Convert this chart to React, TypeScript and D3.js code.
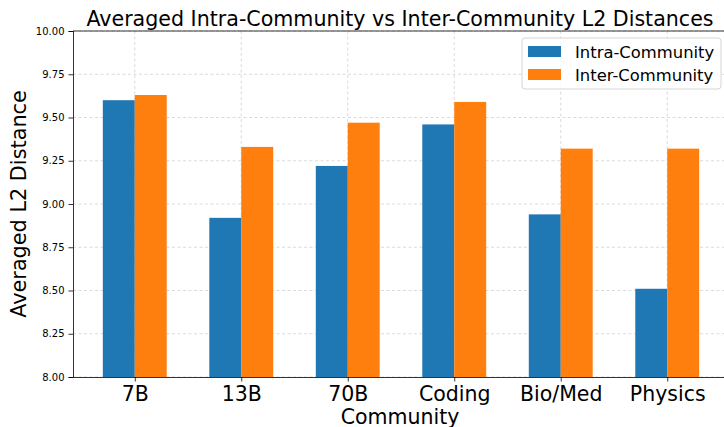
import { useEffect, useRef } from "react";
import * as d3 from "d3";

const categories = ["7B", "13B", "70B", "Coding", "Bio/Med", "Physics"];
const intraValues = [9.6, 8.92, 9.22, 9.46, 8.94, 8.51];
const interValues = [9.63, 9.33, 9.47, 9.59, 9.32, 9.32];
const seriesNames = ["Intra-Community", "Inter-Community"];
const seriesColors = ["#1f77b4", "#ff7f0e"];
const yTicks = [8.0, 8.25, 8.5, 8.75, 9.0, 9.25, 9.5, 9.75, 10.0];

export default function App() {
  const svgRef = useRef<SVGSVGElement | null>(null);

  useEffect(() => {
    if (!svgRef.current) return;
    const svg = d3.select(svgRef.current);
    svg.selectAll("*").remove();

    const width = 724;
    const height = 427;
    const left = 73;
    const top = 31;
    const bottom = 377;
    const right = 729;
    const barW = 0.3;
    const font = "DejaVu Sans, sans-serif";

    const x = d3.scaleLinear().domain([-0.58, categories.length - 1 + 0.58]).range([left, right]);
    const y = d3.scaleLinear().domain([8, 10]).range([bottom, top]);

    svg.attr("width", width).attr("height", height).style("font-family", font);
    svg.append("rect").attr("width", width).attr("height", height).attr("fill", "#fff");

    // grid (dashed, behind bars)
    const grid = svg.append("g").attr("stroke", "#b0b0b0").attr("stroke-opacity", 0.6)
      .attr("stroke-width", 0.8).attr("stroke-dasharray", "3,2.5");
    grid.selectAll("line.h").data(yTicks).enter().append("line")
      .attr("x1", left).attr("x2", right).attr("y1", (d) => y(d)).attr("y2", (d) => y(d));
    grid.selectAll("line.v").data(categories).enter().append("line")
      .attr("x1", (_, i) => x(i)).attr("x2", (_, i) => x(i)).attr("y1", top).attr("y2", bottom);

    // bars
    const series = [intraValues, interValues];
    series.forEach((vals, s) => {
      svg.append("g").selectAll("rect").data(vals).enter().append("rect")
        .attr("x", (_, i) => x(i + (s === 0 ? -barW : 0)))
        .attr("width", x(barW) - x(0))
        .attr("y", (d) => y(d))
        .attr("height", (d) => y(8) - y(d))
        .attr("fill", seriesColors[s]);
    });

    // axes
    const yAxis = svg.append("g").attr("transform", `translate(${left},0)`)
      .call(d3.axisLeft(y).tickValues(yTicks).tickFormat(d3.format(".2f")).tickSize(4.5).tickPadding(4));
    yAxis.select(".domain").attr("stroke", "#000").attr("stroke-width", 0.8);
    yAxis.selectAll(".tick line").attr("stroke", "#000").attr("stroke-width", 0.8);
    yAxis.selectAll(".tick text").attr("font-size", 10).attr("font-family", font).attr("fill", "#000");

    const xAxis = svg.append("g").attr("transform", `translate(0,${bottom})`)
      .call(d3.axisBottom(x).tickValues(d3.range(categories.length))
        .tickFormat((d) => categories[d as number]).tickSize(4.5).tickPadding(5).tickSizeOuter(0));
    xAxis.select(".domain").attr("stroke", "#000").attr("stroke-width", 0.8);
    xAxis.selectAll(".tick line").attr("stroke", "#000").attr("stroke-width", 0.8);
    xAxis.selectAll(".tick text").attr("font-size", 20.5).attr("font-family", font).attr("fill", "#000");

    svg.append("line").attr("x1", left).attr("x2", right).attr("y1", top).attr("y2", top)
      .attr("stroke", "#000").attr("stroke-width", 0.8);

    // labels
    svg.append("text").attr("x", 400).attr("y", 25.5).attr("text-anchor", "middle")
      .attr("font-size", 20.6).text("Averaged Intra-Community vs Inter-Community L2 Distances");
    svg.append("text").attr("x", 400).attr("y", 423.5).attr("text-anchor", "middle")
      .attr("font-size", 20.5).text("Community");
    svg.append("text").attr("transform", `translate(26,${(top + bottom) / 2}) rotate(-90)`)
      .attr("text-anchor", "middle").attr("font-size", 20.8).text("Averaged L2 Distance");

    // legend
    const lg = svg.append("g").attr("transform", "translate(522,38)");
    lg.append("rect").attr("width", 199).attr("height", 51).attr("rx", 3)
      .attr("fill", "#fff").attr("fill-opacity", 0.8).attr("stroke", "#ccc").attr("stroke-width", 0.8);
    seriesNames.forEach((name, i) => {
      lg.append("rect").attr("x", 6).attr("y", 8 + i * 23).attr("width", 33).attr("height", 11)
        .attr("fill", seriesColors[i]);
      lg.append("text").attr("x", 53).attr("y", 19.5 + i * 23).attr("font-size", 16.4).text(name);
    });
  }, []);

  return (
    <div style={{ position: "absolute", left: 0, top: 0 }}>
      <svg ref={svgRef} />
    </div>
  );
}
